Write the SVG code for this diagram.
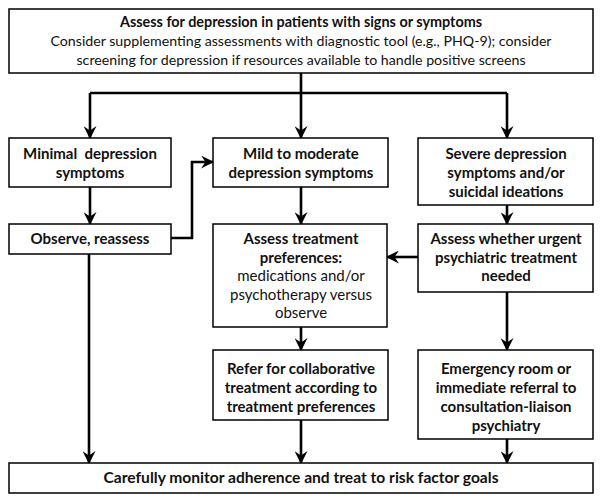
<svg xmlns="http://www.w3.org/2000/svg" width="601" height="498" viewBox="0 0 601 498">
<style>
.box{fill:#fff;stroke:#000;stroke-width:1.5}
.t{font-family:Lato,"Liberation Sans",sans-serif;font-size:15px;fill:#111;text-anchor:middle}
.b{font-weight:bold}
.r{font-size:14.2px}
.c{fill:none;stroke:#000;stroke-width:2.6}
</style>
<defs>
<marker id="ah" viewBox="0 0 12 12" refX="11" refY="6" markerWidth="13" markerHeight="13" markerUnits="userSpaceOnUse" orient="auto">
<path d="M0,0 L12,6 L0,12 L4,6 z" fill="#000"/>
</marker>
</defs>
<rect width="601" height="498" fill="#fff"/>
<g id="connectors">
<path class="c" d="M301,73 V93"/>
<path class="c" d="M90,93 H507"/>
<path class="c" d="M90,93 V138" marker-end="url(#ah)"/>
<path class="c" d="M301,93 V138" marker-end="url(#ah)"/>
<path class="c" d="M507,93 V138" marker-end="url(#ah)"/>
<path class="c" d="M90,187 V224" marker-end="url(#ah)"/>
<path class="c" d="M171,238 H192 V162 H213" marker-end="url(#ah)"/>
<path class="c" d="M89,254 V463" marker-end="url(#ah)"/>
<path class="c" d="M301,187 V224" marker-end="url(#ah)"/>
<path class="c" d="M507,205 V224" marker-end="url(#ah)"/>
<path class="c" d="M418,257 H387" marker-end="url(#ah)"/>
<path class="c" d="M301,327 V350" marker-end="url(#ah)"/>
<path class="c" d="M507,292 V350" marker-end="url(#ah)"/>
<path class="c" d="M301,420 V463" marker-end="url(#ah)"/>
<path class="c" d="M507,439 V463" marker-end="url(#ah)"/>
</g>
<g id="assess">
<rect class="box" x="9" y="9" width="584" height="64"/>
<text class="t b" x="301" y="27" style="font-size:14.4px">Assess for depression in patients with signs or symptoms</text>
<text class="t r" x="301" y="46">Consider supplementing assessments with diagnostic tool (e.g., PHQ-9); consider</text>
<text class="t r" x="301" y="65">screening for depression if resources available to handle positive screens</text>
</g>
<g id="minimal">
<rect class="box" x="9" y="138" width="162" height="49"/>
<text class="t b" x="90" y="159" xml:space="preserve">Minimal  depression</text>
<text class="t b" x="90" y="178">symptoms</text>
</g>
<g id="mild">
<rect class="box" x="213" y="138" width="175" height="49"/>
<text class="t b" x="301" y="159">Mild to moderate</text>
<text class="t b" x="301" y="178">depression symptoms</text>
</g>
<g id="severe">
<rect class="box" x="418" y="138" width="175" height="67"/>
<text class="t b" x="506" y="159">Severe depression</text>
<text class="t b" x="506" y="178">symptoms and/or</text>
<text class="t b" x="506" y="197">suicidal ideations</text>
</g>
<g id="observe">
<rect class="box" x="9" y="224" width="162" height="30"/>
<text class="t b" x="90" y="244">Observe, reassess</text>
</g>
<g id="preferences">
<rect class="box" x="213" y="224" width="174" height="103"/>
<text class="t b" x="301" y="244">Assess treatment</text>
<text class="t b" x="301" y="263">preferences:</text>
<text class="t" x="301" y="281">medications and/or</text>
<text class="t" x="301" y="300">psychotherapy versus</text>
<text class="t" x="301" y="318">observe</text>
</g>
<g id="urgent">
<rect class="box" x="418" y="224" width="175" height="68"/>
<text class="t b" x="506" y="244">Assess whether urgent</text>
<text class="t b" x="506" y="263">psychiatric treatment</text>
<text class="t b" x="506" y="281">needed</text>
</g>
<g id="refer">
<rect class="box" x="213" y="350" width="175" height="70"/>
<text class="t b" x="301" y="374">Refer for collaborative</text>
<text class="t b" x="301" y="393">treatment according to</text>
<text class="t b" x="301" y="412">treatment preferences</text>
</g>
<g id="emergency">
<rect class="box" x="418" y="350" width="175" height="89"/>
<text class="t b" x="506" y="374">Emergency room or</text>
<text class="t b" x="506" y="393">immediate referral to</text>
<text class="t b" x="506" y="412">consultation-liaison</text>
<text class="t b" x="506" y="431">psychiatry</text>
</g>
<g id="monitor">
<rect class="box" x="9" y="463" width="584" height="30"/>
<text class="t b" x="301" y="483" style="font-size:15.6px">Carefully monitor adherence and treat to risk factor goals</text>
</g>
</svg>
